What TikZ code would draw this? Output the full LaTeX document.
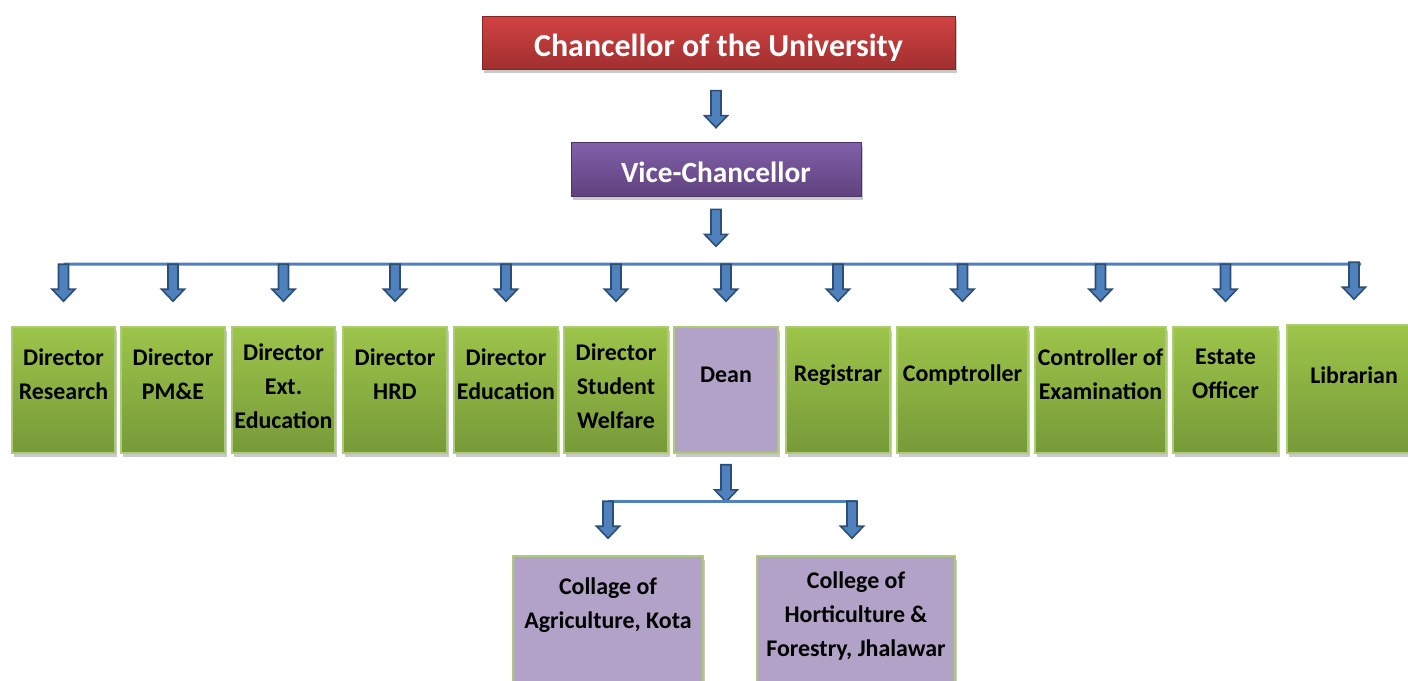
\documentclass[tikz,border=0pt]{standalone}
\usepackage{fontspec}
\setmainfont{Carlito}
\usetikzlibrary{positioning, calc, shadows}
\definecolor{redtop}{HTML}{D14343}
\definecolor{redbot}{HTML}{A12F2F}
\definecolor{violettop}{HTML}{8260AA}
\definecolor{violetbot}{HTML}{5F427E}
\definecolor{greentop}{HTML}{9DC44A}
\definecolor{greenbot}{HTML}{779A39}
\definecolor{greenline}{HTML}{ADCB73}
\definecolor{lilac}{HTML}{B3A2C7}
\definecolor{arrowblue}{HTML}{4F81BD}
\definecolor{arrowedge}{HTML}{2C4D75}

\tikzset{
  boxshadow/.style={drop shadow={shadow xshift=1.2pt, shadow yshift=-2.2pt, opacity=0.3, fill=black!70}},
  headbox/.style={boxshadow, draw=#1bot!80!black, line width=0.4pt, top color=#1top, bottom color=#1bot,
    text=white, text depth=0pt, inner sep=0pt},
  offbox/.style={boxshadow, draw=greenline, line width=0.9pt, top color=greentop, bottom color=greenbot,
    minimum width=2.07cm, minimum height=2.52cm, inner sep=0pt},
  deanbox/.style={offbox, fill=lilac, top color=lilac, bottom color=lilac},
  txt/.style={font=\bfseries\fontsize{13.6}{19.3}\selectfont, align=center, inner sep=0pt},
  bar/.style={draw=arrowblue, line width=1.7pt},
  downarrow/.pic={
    \draw[fill=arrowblue, draw=arrowedge, line width=0.9pt, line join=miter]
      (-5,-37) -- (5,-37) -- (5,-12) -- (11.5,-12) -- (0,0) -- (-11.5,-12) -- (-5,-12) -- cycle;
  }
}

\begin{document}
\begin{tikzpicture}[x=0.02cm, y=-0.02cm]
  \useasboundingbox (0,0) rectangle (1408,680);
  \clip (0,0) rectangle (1408,680);

  % Top of the chart
  \node[headbox=red, minimum width=9.46cm, minimum height=1.06cm, text height=16.4pt,
    font=\bfseries\fontsize{18.2}{20}\selectfont] (chan) at (718.5,42.5)
    {Chancellor of the University};
  \node[headbox=violet, minimum width=5.8cm, minimum height=1.08cm, text height=14.8pt,
    font=\bfseries\fontsize{16.7}{19}\selectfont] (vc) at (716,169)
    {Vice-Chancellor};
  \pic at ($(vc.north)+(0,-14)$) {downarrow};
  \pic at ($(vc.south)+(0,50)$) {downarrow};

  % Officers
  \node[offbox] (dres) at (63.5,390) {};
  \node[offbox] (dpme) at (173,390) {};
  \node[offbox] (dext) at (283.5,390) {};
  \node[offbox] (dhrd) at (395,390) {};
  \node[offbox] (dedu) at (506,390) {};
  \node[offbox] (dsw) at (616,390) {};
  \node[deanbox] (dean) at (726,390) {};
  \node[offbox] (reg) at (838,390) {};
  \node[offbox, minimum width=2.62cm] (comp) at (962.5,390) {};
  \node[offbox, minimum width=2.62cm] (coe) at (1100.5,390) {};
  \node[offbox, minimum width=2.1cm] (estate) at (1225.5,390) {};
  \node[offbox, minimum width=2.68cm, minimum height=2.56cm] (lib) at (1354,389) {};

  \node[txt] (dres-t) at ($(dres.north)+(0,48)$) {Director\\Research};
  \node[txt] (dpme-t) at ($(dpme.north)+(0,48)$) {Director\\PM\&E};
  \node[txt] (dext-t) at ($(dext.north)+(0,60)$) {Director\\Ext.\\Education};
  \node[txt] (dhrd-t) at ($(dhrd.north)+(0,48)$) {Director\\HRD};
  \node[txt] (dedu-t) at ($(dedu.north)+(0,48)$) {Director\\Education};
  \node[txt] (dsw-t) at ($(dsw.north)+(0,60)$) {Director\\Student\\Welfare};
  \node[txt] (dean-t) at ($(dean.north)+(0,49)$) {Dean};
  \node[txt] (reg-t) at ($(reg.north)+(0,49)$) {Registrar};
  \node[txt] (comp-t) at ($(comp.north)+(0,49)$) {Comptroller};
  \node[txt] (coe-t) at ($(coe.north)+(0,48)$) {Controller of\\Examination};
  \node[txt] (estate-t) at ($(estate.north)+(0,48)$) {Estate\\Officer};
  \node[txt] (lib-t) at ($(lib.north)+(0,51)$) {Librarian};

  % Bar and arrows to the officers
  \coordinate (barL) at ($(dres.north)+(0,-62)$);
  \coordinate (barR) at ($(lib.north)+(7,-60)$);
  \draw[bar] (barL) -- (barR);
  \foreach \b in {dres,dpme,dext,dhrd,dedu,dsw,dean,reg,comp,coe,estate,lib}
    \pic at ($(\b.north)+(0,-25)$) {downarrow};

  % Colleges under the Dean
  \node[deanbox, minimum width=3.8cm, minimum height=3cm] (kota) at (608,631) {};
  \node[deanbox, minimum width=3.96cm, minimum height=3cm] (jhal) at (856,631) {};
  \node[txt] (kota-t) at ($(kota.north)+(0,50)$) {Collage of\\Agriculture, Kota};
  \node[txt] (jhal-t) at ($(jhal.north)+(0,61)$) {College of\\Horticulture \&\\Forestry, Jhalawar};

  \pic at ($(dean.south)+(0,48)$) {downarrow};
  \coordinate (subL) at ($(kota.north)+(0,-54)$);
  \coordinate (subR) at ($(jhal.north)+(1,-54)$);
  \draw[bar] (subL) -- (subR);
  \pic at ($(kota.north)+(0,-17)$) {downarrow};
  \pic at ($(jhal.north)+(-4,-17)$) {downarrow};
\end{tikzpicture}
\end{document}
